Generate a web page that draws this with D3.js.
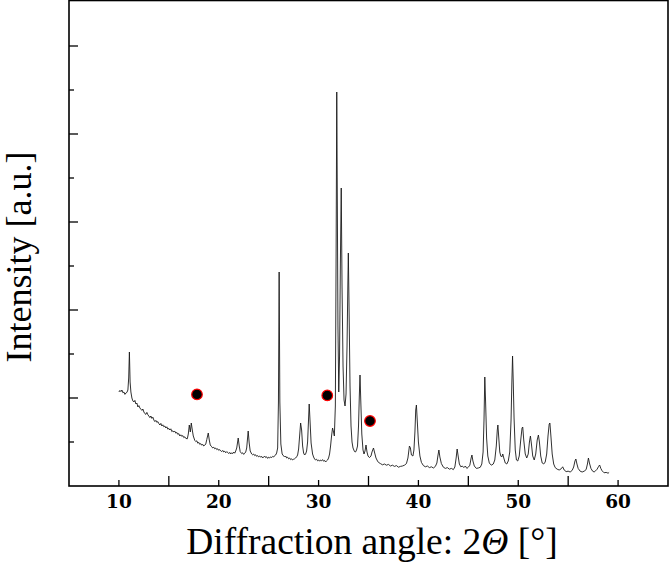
<!DOCTYPE html>
<html><head><meta charset="utf-8">
<script src="https://cdn.jsdelivr.net/npm/d3@7/dist/d3.min.js"></script>
<style>html,body{margin:0;padding:0;background:#fff;}svg{display:block;}</style>
</head><body>
<svg id="chart" width="669" height="564"></svg>
<script>
// Powder pattern: [diffraction angle 2θ (deg), intensity (a.u.)]
const scan = [
[10.0,470],[10.1,478],[10.2,472],[10.3,480],[10.4,466],[10.5,470],[10.6,458],[10.7,465],[10.8,468],[10.9,480],[10.98,540],[11.05,670],[11.12,520],[11.2,470],
[11.3,440],[11.4,425],[11.5,420],[11.6,428],[11.7,410],[11.8,415],[11.9,395],[12.0,402],[12.1,390],[12.2,384],[12.3,378],[12.4,385],[12.5,370],[12.6,362],[12.7,358],[12.8,368],[12.9,356],[13.0,350],
[13.1,342],[13.2,350],[13.3,338],[13.4,344],[13.5,330],[13.6,322],[13.7,328],[13.8,318],[13.9,322],[14.0,312],[14.1,305],[14.2,313],[14.3,300],[14.4,306],[14.5,296],[14.6,300],[14.7,290],[14.8,296],
[14.9,284],[15.0,288],[15.1,280],[15.2,286],[15.3,272],[15.4,276],[15.5,270],[15.6,274],[15.7,264],[15.8,268],[15.9,258],[16.0,262],[16.1,250],[16.2,256],[16.3,248],[16.4,252],[16.5,242],[16.6,246],
[16.7,238],[16.85,236],[16.95,260],[17.05,305],[17.15,270],[17.25,315],[17.35,280],[17.45,250],[17.6,228],[17.7,222],[17.8,226],[17.9,214],[18.0,218],[18.1,208],[18.2,212],[18.3,204],[18.4,208],[18.5,200],
[18.6,204],[18.7,210],[18.8,232],[18.95,265],[19.05,230],[19.15,205],[19.3,196],[19.4,190],[19.5,194],[19.6,186],[19.7,190],[19.8,182],[19.9,186],[20.0,178],[20.1,182],[20.2,176],[20.3,172],[20.4,178],
[20.5,170],[20.6,174],[20.7,166],[20.8,172],[20.9,168],[21.0,162],[21.1,168],[21.2,160],[21.3,166],[21.4,162],[21.5,170],[21.6,164],[21.7,175],[21.8,190],[21.95,240],[22.05,200],[22.15,172],[22.3,162],
[22.4,166],[22.5,158],[22.6,164],[22.7,170],[22.8,190],[22.95,275],[23.05,215],[23.15,175],[23.3,160],[23.4,156],[23.5,160],[23.6,152],[23.7,156],[23.8,148],[23.9,152],[24.0,146],[24.1,150],[24.2,144],
[24.3,148],[24.4,140],[24.5,145],[24.6,150],[24.7,142],[24.8,146],[24.9,138],[25.0,144],[25.1,140],[25.2,146],[25.3,142],[25.4,148],[25.5,145],[25.6,152],[25.7,155],[25.8,165],[25.9,190],[25.98,420],
[26.05,1070],[26.12,420],[26.22,210],[26.35,160],[26.5,150],[26.6,145],[26.7,150],[26.8,140],[26.9,144],[27.0,136],[27.1,140],[27.2,132],[27.3,136],[27.4,130],[27.5,134],[27.6,136],[27.7,140],[27.8,146],
[27.9,155],[28.0,185],[28.1,250],[28.2,315],[28.3,280],[28.4,200],[28.5,165],[28.6,155],[28.7,160],[28.8,175],[28.9,220],[29.0,340],[29.06,410],[29.14,330],[29.25,215],[29.4,160],[29.5,145],[29.6,135],
[29.7,130],[29.8,134],[29.9,126],[30.0,130],[30.1,124],[30.2,130],[30.3,126],[30.4,132],[30.5,124],[30.6,128],[30.7,120],[30.8,126],[30.9,130],[31.0,140],[31.1,160],[31.2,200],[31.3,250],[31.4,290],
[31.5,270],[31.58,250],[31.68,400],[31.76,1200],[31.82,1970],[31.88,1400],[31.94,800],[32.02,470],[32.1,650],[32.18,1100],[32.27,1490],[32.35,1000],[32.45,600],[32.55,430],[32.65,400],[32.75,460],
[32.85,700],[32.93,1000],[32.98,1165],[33.05,900],[33.15,500],[33.25,300],[33.35,220],[33.45,190],[33.6,172],[33.7,170],[33.8,180],[33.9,200],[34.0,300],[34.08,450],[34.15,555],[34.23,420],[34.33,260],
[34.45,180],[34.55,160],[34.65,175],[34.75,205],[34.85,170],[34.95,150],[35.1,142],[35.25,150],[35.35,170],[35.5,190],[35.62,165],[35.75,140],[35.9,125],[36.0,118],[36.2,112],[36.4,106],[36.6,110],
[36.8,104],[37.0,108],[37.2,100],[37.4,104],[37.6,98],[37.8,102],[38.0,94],[38.2,98],[38.4,100],[38.6,104],[38.8,112],[38.95,140],[39.1,200],[39.2,190],[39.3,155],[39.45,150],[39.55,180],[39.65,270],
[39.73,380],[39.8,405],[39.88,330],[40.0,220],[40.15,150],[40.3,118],[40.5,102],[40.7,96],[40.9,100],[41.1,92],[41.3,96],[41.5,90],[41.7,98],[41.85,115],[41.95,150],[42.05,180],[42.15,145],[42.3,112],
[42.5,94],[42.7,88],[42.9,92],[43.1,84],[43.3,88],[43.5,82],[43.65,95],[43.78,140],[43.88,185],[43.98,150],[44.1,110],[44.25,96],[44.4,100],[44.55,92],[44.7,100],[44.85,88],[45.0,94],[45.15,104],
[45.28,140],[45.36,155],[45.46,125],[45.6,100],[45.8,88],[46.0,90],[46.2,94],[46.35,110],[46.48,170],[46.57,330],[46.65,545],[46.73,420],[46.83,240],[46.95,150],[47.1,115],[47.3,104],[47.5,110],
[47.65,130],[47.8,200],[47.9,280],[47.96,305],[48.05,240],[48.15,170],[48.25,150],[48.35,145],[48.45,160],[48.55,140],[48.7,115],[48.85,110],[49.0,125],[49.15,170],[49.28,330],[49.36,520],[49.43,650],
[49.5,520],[49.58,340],[49.7,180],[49.82,130],[49.95,125],[50.1,150],[50.25,230],[50.38,290],[50.45,295],[50.55,230],[50.7,160],[50.85,140],[51.0,160],[51.12,220],[51.22,250],[51.32,210],[51.45,150],
[51.6,130],[51.75,160],[51.9,230],[52.02,255],[52.12,220],[52.25,150],[52.4,115],[52.55,110],[52.7,120],[52.85,160],[52.98,250],[53.1,310],[53.17,315],[53.27,250],[53.4,160],[53.55,110],[53.7,92],
[53.9,84],[54.1,80],[54.3,86],[54.45,96],[54.6,80],[54.8,72],[55.0,74],[55.2,70],[55.4,78],[55.55,95],[55.68,125],[55.77,135],[55.88,110],[56.0,88],[56.2,74],[56.4,70],[56.6,74],[56.8,82],[56.93,110],
[57.03,140],[57.13,115],[57.28,88],[57.45,74],[57.6,70],[57.75,76],[57.9,84],[58.05,98],[58.15,105],[58.27,88],[58.4,76],[58.6,66],[58.8,68],[59.0,64],[59.1,68]
];
// Marked reflections
const markAngle = [17.82, 30.87, 35.15];
const markIntensity = [458, 453, 325];
// Ticks
const xTicks = [10,15,20,25,30,35,40,45,50,55,60];
const xTickLabels = ["10","20","30","40","50","60"];
const yTicks = [220,440,660,880,1100,1320,1540,1760,1980,2200];

const svg = d3.select("#chart");
const L = 69, R = 668, T = 0.5, B = 486;
const x = d3.scaleLinear().domain([5, 65]).range([L, R]);
const y = d3.scaleLinear().domain([0, 2427.5]).range([B, T]);

// curve
svg.append("path")
  .datum(scan)
  .attr("fill", "none")
  .attr("stroke", "#1a1a1a")
  .attr("stroke-width", 0.9)
  .attr("stroke-linejoin", "round")
  .attr("d", d3.line().x(d => x(d[0])).y(d => y(d[1])));

// markers
svg.selectAll("circle.mk")
  .data(markAngle.map((a, i) => ({a, v: markIntensity[i]})))
  .enter().append("circle")
  .attr("class", "mk")
  .attr("cx", d => x(d.a)).attr("cy", d => y(d.v))
  .attr("r", 5.3)
  .attr("fill", "#000").attr("stroke", "#ff0000").attr("stroke-width", 1.2);

// x ticks (inward)
const gx = svg.append("g");
gx.selectAll("line").data(xTicks).enter().append("line")
  .attr("x1", d => x(d)).attr("x2", d => x(d))
  .attr("y1", B).attr("y2", d => B - (d % 10 === 0 ? 6 : 10))
  .attr("stroke", "#000").attr("stroke-width", 1.3);
gx.selectAll("text").data(xTickLabels).enter().append("text")
  .attr("x", d => x(+d)).attr("y", 508)
  .attr("text-anchor", "middle")
  .attr("font-family", "'DejaVu Serif', serif")
  .attr("font-weight", "bold").attr("font-size", 18.5)
  .text(d => d);

// y ticks (inward)
svg.append("g").selectAll("line").data(yTicks).enter().append("line")
  .attr("x1", L).attr("x2", d => L + (d % 440 === 0 ? 9 : 5))
  .attr("y1", d => y(d)).attr("y2", d => y(d))
  .attr("stroke", "#000").attr("stroke-width", 1.3);

// frame
svg.append("rect")
  .attr("x", L).attr("y", T).attr("width", R - L).attr("height", B - T)
  .attr("fill", "none").attr("stroke", "#000").attr("stroke-width", 1.6);

// axis titles
const xt = svg.append("text")
  .attr("x", 372).attr("y", 554)
  .attr("text-anchor", "middle")
  .attr("font-family", "'Liberation Serif', serif")
  .attr("font-size", 37.5);
xt.append("tspan").text("Diffraction angle: 2");
xt.append("tspan").attr("font-style", "italic").text("Θ");
xt.append("tspan").text(" [°]");

svg.append("text")
  .attr("transform", "translate(31,257) rotate(-90)")
  .attr("text-anchor", "middle")
  .attr("font-family", "'Liberation Serif', serif")
  .attr("font-size", 36)
  .text("Intensity [a.u.]");
</script>
</body></html>
